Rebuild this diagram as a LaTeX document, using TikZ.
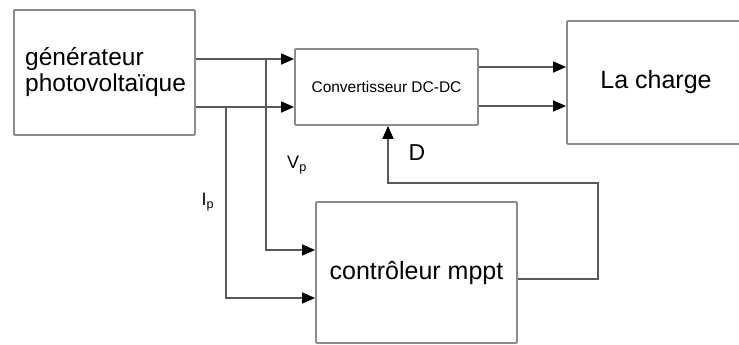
\documentclass[tikz,border=0pt]{standalone}
\usepackage{fontspec}
\setmainfont{Liberation Sans}
\usetikzlibrary{arrows.meta,calc}
\definecolor{boxgray}{rgb}{0.55,0.55,0.55}
\definecolor{wiregray}{rgb}{0.35,0.35,0.35}
\tikzset{
  blockbox/.style={draw=boxgray, line width=1.8pt, rounded corners=1pt, inner sep=0pt},
  wire/.style={draw=wiregray, line width=1.4pt},
  arr/.style={wire, -{Triangle[length=13pt,width=11pt,color=black]}},
  lbl/.style={inner sep=0pt, text=black}
}
\begin{document}
\begin{tikzpicture}[x=1pt,y=-1pt]
\useasboundingbox (0,0) rectangle (739,345);
\node[blockbox, minimum width=181pt, minimum height=125pt] (gen) at (104.5,72.5) {};
\node[lbl, align=left, font=\fontsize{24.5}{26}\selectfont, anchor=west] (gentext) at (25,72) {générateur\\photovoltaïque};
\node[blockbox, minimum width=183pt, minimum height=76pt, font=\fontsize{15.5}{17}\selectfont] (conv) at (386.5,87) {Convertisseur DC-DC};
\node[blockbox, minimum width=178pt, minimum height=123pt, font=\fontsize{25}{27}\selectfont] (charge) at (656,82.5) {La charge};
\node[blockbox, minimum width=201pt, minimum height=141pt, font=\fontsize{25}{27}\selectfont] (mppt) at (416.5,272.5) {contrôleur mppt};
% labels
\node[lbl, font=\fontsize{18}{20}\selectfont] (vp) at (297,165) {V\textsubscript{p}};
\node[lbl, font=\fontsize{18}{20}\selectfont] (ip) at (208,202) {I\textsubscript{p}};
\node[lbl, font=\fontsize{23}{25}\selectfont] (d) at (417,153) {D};
% generator to converter
\draw[arr] ([yshift=13.5pt]gen.east) -- ([yshift=28pt]conv.west);
\draw[arr] ([yshift=-34.5pt]gen.east) -- ([yshift=-20pt]conv.west);
% taps to mppt
\coordinate (t1) at (266,59);
\coordinate (t2) at (226,107);
\draw[arr] (t1) |- ([yshift=22.5pt]mppt.west);
\draw[arr] (t2) |- ([yshift=-25.5pt]mppt.west);
% converter to charge
\draw[arr] ([yshift=20pt]conv.east) -- ([yshift=15.5pt]charge.west);
\draw[arr] ([yshift=-19pt]conv.east) -- ([yshift=-23.5pt]charge.west);
% feedback
\coordinate (fb1) at (598,279);
\coordinate (fb2) at (598,183);
\draw[arr] ([yshift=-6.5pt]mppt.east) -- (fb1) -- (fb2) -| ([xshift=1.5pt]conv.south);
\end{tikzpicture}
\end{document}
